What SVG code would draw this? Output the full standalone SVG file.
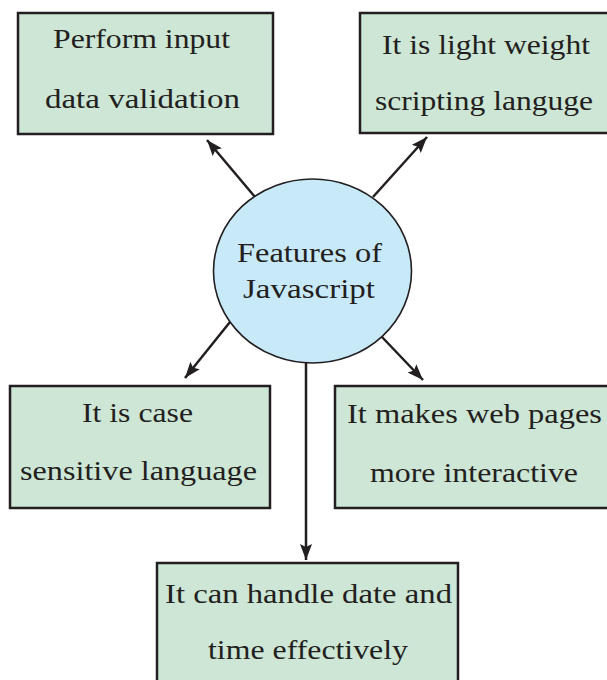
<svg xmlns="http://www.w3.org/2000/svg" width="607" height="680" viewBox="0 0 607 680">
<style>
.box{fill:#cde6d5;stroke:#231f20;stroke-width:2.5}
.hub{fill:#c8e9f8;stroke:#231f20;stroke-width:1.6}
.t{font-size:28px;fill:#231f20;text-anchor:middle}
.c{stroke:#231f20;stroke-width:2.5;fill:none;marker-end:url(#ah)}
</style>
<defs>
<marker id="ah" markerUnits="userSpaceOnUse" markerWidth="18" markerHeight="14" refX="16" refY="6" orient="auto">
<path d="M0,0 L16,6 L0,12 L3,6 z" fill="#231f20"/>
</marker>
</defs>
<rect width="607" height="680" fill="#ffffff"/>
<g id="connectors">
<line class="c" x1="255" y1="197" x2="207" y2="140"/>
<line class="c" x1="373" y1="197" x2="427" y2="137"/>
<line class="c" x1="230" y1="322" x2="185" y2="378"/>
<line class="c" x1="382" y1="337" x2="423" y2="380"/>
<line class="c" x1="306" y1="363" x2="306" y2="560"/>
</g>
<g font-family="Liberation Serif, serif">
<g id="hub">
<ellipse class="hub" cx="312.5" cy="271" rx="99" ry="92"/>
<text class="t" x="309.5" y="262" textLength="145" lengthAdjust="spacingAndGlyphs">Features of</text>
<text class="t" x="309" y="298" textLength="132" lengthAdjust="spacingAndGlyphs">Javascript</text>
</g>
<g id="validation">
<rect class="box" x="18" y="13" width="255" height="121"/>
<text class="t" x="141.5" y="48" textLength="177" lengthAdjust="spacingAndGlyphs">Perform input</text>
<text class="t" x="142.5" y="108" textLength="195" lengthAdjust="spacingAndGlyphs">data validation</text>
</g>
<g id="lightweight">
<rect class="box" x="360" y="13" width="252" height="120"/>
<text class="t" x="486" y="54" textLength="208" lengthAdjust="spacingAndGlyphs">It is light weight</text>
<text class="t" x="484" y="110" textLength="218" lengthAdjust="spacingAndGlyphs">scripting languge</text>
</g>
<g id="casesensitive">
<rect class="box" x="10" y="386" width="260" height="122"/>
<text class="t" x="137.5" y="422" textLength="111" lengthAdjust="spacingAndGlyphs">It is case</text>
<text class="t" x="138.5" y="480" textLength="237" lengthAdjust="spacingAndGlyphs">sensitive language</text>
</g>
<g id="interactive">
<rect class="box" x="335" y="386" width="277" height="122"/>
<text class="t" x="474.5" y="423" textLength="255" lengthAdjust="spacingAndGlyphs">It makes web pages</text>
<text class="t" x="474" y="482" textLength="208" lengthAdjust="spacingAndGlyphs">more interactive</text>
</g>
<g id="datetime">
<rect class="box" x="157" y="563" width="301" height="130"/>
<text class="t" x="308.5" y="603" textLength="287" lengthAdjust="spacingAndGlyphs">It can handle date and</text>
<text class="t" x="308" y="659" textLength="200" lengthAdjust="spacingAndGlyphs">time effectively</text>
</g>
</g>
</svg>
